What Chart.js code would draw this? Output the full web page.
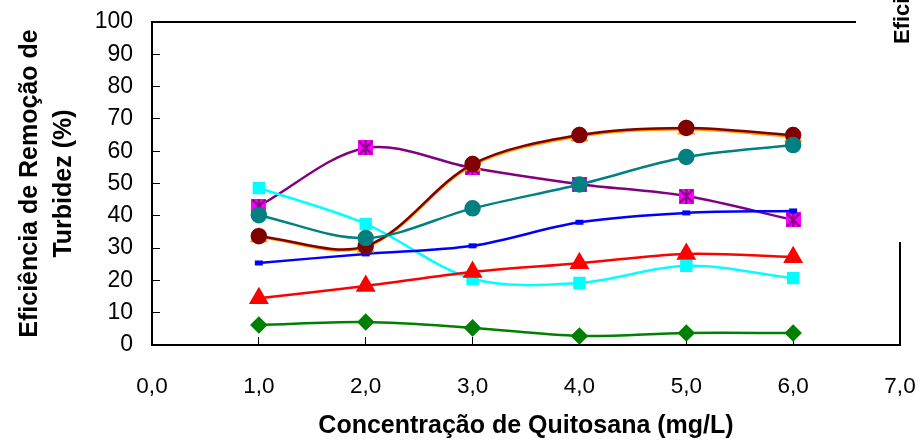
<!DOCTYPE html>
<html>
<head>
<meta charset="utf-8">
<script src="https://cdn.jsdelivr.net/npm/chart.js@4/dist/chart.umd.min.js"></script>
<style>
  body { margin: 0; background: #fff; }
  canvas { display: block; }
</style>
</head>
<body>
<canvas id="chart" width="921" height="441"></canvas>
<script>
// concentracao de quitosana (mg/L)
const doses = [1, 2, 3, 4, 5, 6];
const xTickLabels = ['0,0', '1,0', '2,0', '3,0', '4,0', '5,0', '6,0', '7,0'];
const yTickLabels = ['0', '10', '20', '30', '40', '50', '60', '70', '80', '90', '100'];

// eficiencia de remocao de turbidez (%)
const serieVerde = [6.2, 7.1, 5.3, 2.8, 3.7, 3.7];
const serieVermelha = [14.5, 18.3, 22.6, 25.3, 28.2, 27.2];
const serieAzul = [25.4, 28.2, 30.7, 38.0, 40.9, 41.5];
const serieCiano = [48.6, 37.5, 20.5, 19.2, 24.5, 20.7];
const serieTeal = [40.2, 33.1, 42.3, 49.7, 58.2, 61.9];
const serieVinho = [33.7, 30.6, 56.0, 65.0, 67.2, 65.0];
const serieLaranja = [33.4, 30.3, 55.6, 64.6, 66.8, 64.5];
const serieMagenta = [43.0, 61.0, 54.8, 49.8, 46.1, 38.7];

const FONT = "'Liberation Sans', Arial, sans-serif";

function pts(vals) {
  return vals.map((v, i) => ({ x: doses[i], y: v }));
}

// marcador do Excel: quadrado magenta com asterisco roxo
function starSquare() {
  const c = document.createElement('canvas');
  c.width = 15; c.height = 15;
  const g = c.getContext('2d');
  g.fillStyle = '#FF00FF';
  g.fillRect(0, 0, 15, 15);
  g.strokeStyle = '#800080';
  g.lineWidth = 2;
  g.beginPath();
  g.moveTo(1, 1); g.lineTo(14, 14);
  g.moveTo(14, 1); g.lineTo(1, 14);
  g.moveTo(7.5, 0); g.lineTo(7.5, 15);
  g.stroke();
  return c;
}

function serie(vals, color, extra) {
  return Object.assign({
    data: pts(vals),
    borderColor: color,
    backgroundColor: color,
    pointBackgroundColor: color,
    pointBorderColor: color,
    borderWidth: 2.5,
    tension: 0.33,
    pointRadius: 7,
    pointHoverRadius: 7,
    fill: false
  }, extra);
}

// sem folga automatica dos rotulos: a area do grafico fica fixa
function noPad(s) {
  s.paddingTop = 0; s.paddingBottom = 0; s.paddingLeft = 0; s.paddingRight = 0;
}

const frame = {
  id: 'frame',
  afterDraw(chart) {
    const ctx = chart.ctx;
    const a = chart.chartArea;
    ctx.save();
    ctx.strokeStyle = '#000';
    ctx.lineWidth = 2;
    ctx.beginPath();
    ctx.moveTo(a.left, a.top);
    ctx.lineTo(856, a.top);
    ctx.moveTo(a.right, 242);
    ctx.lineTo(a.right, a.bottom);
    ctx.stroke();
    // titulo da legenda (cortado na imagem)
    ctx.translate(909, 44);
    ctx.rotate(-Math.PI / 2);
    ctx.fillStyle = '#000';
    ctx.font = 'bold 22px ' + FONT;
    ctx.textBaseline = 'alphabetic';
    ctx.fillText('Eficiência de Remoção de Turbidez (%)', 0, 0);
    ctx.restore();
  }
};

new Chart(document.getElementById('chart'), {
  type: 'line',
  data: {
    datasets: [
      serie(serieTeal, '#008080', { pointStyle: 'circle', order: 0 }),
      serie(serieVinho, '#800000', { pointStyle: 'circle', order: 1 }),
      serie(serieLaranja, '#FF9900', { pointStyle: 'triangle', pointRadius: 8, order: 2 }),
      serie(serieAzul, '#0000FF', { pointStyle: 'line', pointRadius: 4, pointBorderWidth: 5, order: 3 }),
      serie(serieVermelha, '#FF0000', { pointStyle: 'triangle', pointRadius: 9, order: 4 }),
      serie(serieVerde, '#008000', { pointStyle: 'rectRot', pointRadius: 7, order: 5 }),
      serie(serieCiano, '#00FFFF', { pointStyle: 'rect', pointRadius: 7, order: 6 }),
      serie(serieMagenta, '#800080', { pointStyle: starSquare(), order: 7 })
    ]
  },
  options: {
    responsive: false,
    animation: false,
    devicePixelRatio: 1,
    layout: { padding: { top: 22, right: 21, left: 0, bottom: 0 } },
    plugins: { legend: { display: false }, tooltip: { enabled: false } },
    scales: {
      x: {
        type: 'linear',
        min: 0,
        max: 7,
        afterFit: s => { s.height = 96; noPad(s); },
        ticks: {
          stepSize: 1,
          color: '#000',
          font: { family: FONT, size: 22.5 },
          padding: 36,
          maxRotation: 0,
          callback: v => xTickLabels[v]
        },
        grid: { drawOnChartArea: false, drawTicks: true, tickLength: -8, tickColor: '#000', lineWidth: 1 },
        border: { display: true, color: '#000', width: 2 },
        title: {
          display: true,
          text: 'Concentração de Quitosana (mg/L)',
          color: '#000',
          font: { family: FONT, size: 25, weight: 'bold', lineHeight: 1.2 },
          padding: { top: 0, bottom: 0 }
        }
      },
      y: {
        min: 0,
        max: 100,
        afterFit: s => { s.width = 152; noPad(s); },
        ticks: {
          stepSize: 10,
          color: '#000',
          font: { family: FONT, size: 23 },
          padding: 27,
          callback: v => yTickLabels[v / 10]
        },
        grid: { drawOnChartArea: false, drawTicks: true, tickLength: -8, tickColor: '#000', lineWidth: 1 },
        border: { display: true, color: '#000', width: 2 },
        title: {
          display: true,
          text: ['Eficiência de Remoção de', 'Turbidez (%)'],
          color: '#000',
          font: { family: FONT, size: 25, weight: 'bold', lineHeight: 1.35 },
          padding: { top: 13, bottom: 0 }
        }
      }
    }
  },
  plugins: [frame]
});
</script>
</body>
</html>
